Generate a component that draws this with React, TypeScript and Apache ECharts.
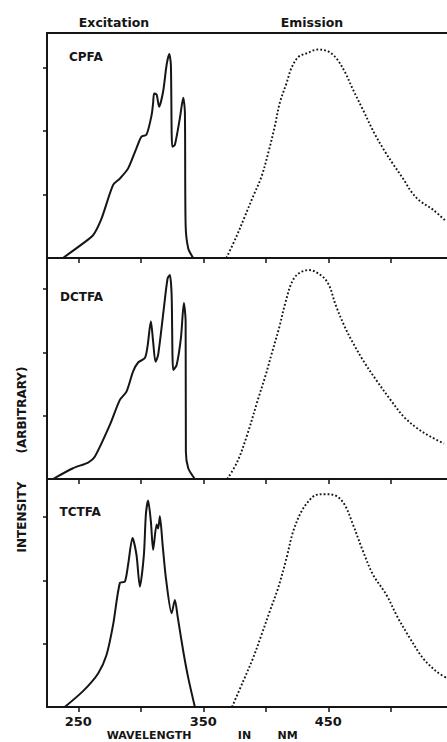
import React, { useEffect, useRef } from "react";
import * as echarts from "echarts";

// Wavelength axis (nm)
const xMin = 225;
const xMax = 545;
const xTickValues = [250, 300, 350, 400, 450, 500];
const xLabelValues = [250, 350, 450];
const yTickValues = [1, 2, 3];
const panelYMax = [3.54, 3.49, 3.6];
const panelNames = ["CPFA", "DCTFA", "TCTFA"];

// [wavelength nm, intensity (arbitrary)]
const cpfaExcitation = [
  [237.8, 0], [253.8, 0.23], [261.9, 0.36], [268.6, 0.62], [277.9, 1.15], [283.3, 1.25],
  [289.9, 1.41], [296.6, 1.73], [300.6, 1.91], [304.6, 1.94], [308.7, 2.25], [309.9, 2.44],
  [310.7, 2.59], [312.7, 2.57], [314.7, 2.38], [317.9, 2.62], [320.7, 3.04], [322.8, 3.21],
  [324.1, 3.04], [325.2, 1.75], [327.3, 1.78], [331.3, 2.2], [334.0, 2.52], [335.3, 2.3],
  [335.9, 0.52], [338.0, 0.15], [342.0, 0],
];
const cpfaEmission = [
  [368.5, 0], [376.6, 0.34], [383.2, 0.65], [389.9, 0.97], [396.6, 1.28], [402.6, 1.7],
  [407.2, 2.07], [411.2, 2.44], [416.6, 2.75], [420.6, 2.99], [425.9, 3.16], [432.6, 3.22],
  [441.9, 3.28], [449.9, 3.25], [456.6, 3.14], [463.2, 2.93], [469.8, 2.65], [477.8, 2.33],
  [487.2, 1.95], [495.2, 1.68], [501.8, 1.48], [509.8, 1.25], [516.6, 1.04], [523.2, 0.9],
  [533.8, 0.76], [544.6, 0.57],
];
const dctfaExcitation = [
  [229.8, 0], [245.8, 0.17], [257.9, 0.26], [263.2, 0.35], [275.2, 0.85], [283.3, 1.25],
  [288.6, 1.38], [293.9, 1.7], [297.9, 1.84], [303.3, 1.91], [305.4, 2.09], [308.1, 2.49],
  [309.9, 2.17], [311.8, 1.85], [313.9, 1.96], [318.5, 2.7], [321.5, 3.17], [323.3, 3.22],
  [324.7, 2.91], [326.0, 1.72], [328.7, 1.8], [332.1, 2.22], [334.5, 2.78], [335.9, 2.49],
  [336.1, 0.43], [338.0, 0.17], [343.3, 0],
];
const dctfaEmission = [
  [369.2, 0], [377.2, 0.27], [385.2, 0.7], [393.2, 1.22], [399.9, 1.64], [405.2, 2.01],
  [410.6, 2.38], [415.9, 2.8], [421.2, 3.12], [426.6, 3.25], [434.6, 3.3], [445.2, 3.2],
  [450.6, 3.06], [455.9, 2.75], [462.6, 2.43], [469.2, 2.17], [478.6, 1.85], [489.2, 1.54],
  [499.8, 1.25], [510.6, 0.98], [521.2, 0.8], [531.8, 0.67], [542.6, 0.56],
];
const tctfaExcitation = [
  [239.2, 0], [253.8, 0.25], [265.9, 0.53], [272.6, 0.82], [277.9, 1.3], [283.3, 1.96],
  [287.3, 1.98], [289.9, 2.25], [293.4, 2.67], [296.6, 2.4], [299.3, 1.9], [302.5, 2.4],
  [304.1, 3.04], [305.9, 3.26], [308.1, 2.93], [309.9, 2.48], [312.7, 2.88], [313.9, 2.82],
  [315.3, 3.01], [317.5, 2.56], [320.1, 2.04], [324.7, 1.48], [327.3, 1.69], [329.5, 1.43],
  [334.0, 0.88], [338.0, 0.46], [343.3, 0],
];
const tctfaEmission = [
  [373, 0], [381.8, 0.4], [389.8, 0.77], [396.6, 1.14], [403.2, 1.51], [409.9, 1.88],
  [416.6, 2.35], [421.9, 2.77], [428.6, 3.09], [435.2, 3.27], [440.6, 3.35], [448.6, 3.36],
  [456.6, 3.33], [463.2, 3.19], [469.8, 2.88], [477.8, 2.46], [485.8, 2.09], [496.6, 1.77],
  [504.6, 1.45], [515.2, 1.09], [525.8, 0.77], [536.6, 0.56], [544.6, 0.46],
];

const excitationSets = [cpfaExcitation, dctfaExcitation, tctfaExcitation];
const emissionSets = [cpfaEmission, dctfaEmission, tctfaEmission];

const INK = "#151515";
const FONT = "DejaVu Sans";

export default function App() {
  const ref = useRef<HTMLDivElement>(null);

  useEffect(() => {
    if (!ref.current) return;
    const chart = echarts.init(ref.current, undefined, { renderer: "svg" });

    const grids = [
      { left: 47, right: 0, top: 33, height: 225 },
      { left: 47, right: 0, top: 258, height: 221 },
      { left: 47, right: 0, top: 479, height: 228 },
    ].map((g) => ({ ...g, outerBoundsMode: "none", containLabel: false }));

    const xAxes: any[] = [0, 1, 2].map((i) => ({
      type: "value",
      gridIndex: i,
      min: xMin,
      max: xMax,
      position: "bottom",
      axisLine: { show: true, onZero: false, lineStyle: { color: INK, width: 2 } },
      axisTick: {
        show: true,
        inside: false,
        length: 5,
        customValues: xTickValues,
        lineStyle: { color: INK, width: 1.5 },
      },
      axisLabel: {
        show: i === 2,
        customValues: xLabelValues,
        margin: 8,
        color: INK,
        fontFamily: FONT,
        fontWeight: "bold",
        fontSize: 13,
      },
      splitLine: { show: false },
    }));
    xAxes.push({
      type: "value",
      gridIndex: 0,
      min: xMin,
      max: xMax,
      position: "top",
      axisLine: { show: true, onZero: false, lineStyle: { color: INK, width: 2 } },
      axisTick: { show: false },
      axisLabel: { show: false },
      splitLine: { show: false },
    });

    const yAxes = [0, 1, 2].map((i) => ({
      type: "value",
      gridIndex: i,
      min: 0,
      max: panelYMax[i],
      axisLine: { show: true, onZero: false, lineStyle: { color: INK, width: 2 } },
      axisTick: {
        show: true,
        inside: false,
        length: 4,
        customValues: yTickValues,
        lineStyle: { color: INK, width: 1.5 },
      },
      axisLabel: { show: false },
      splitLine: { show: false },
    }));

    const series: any[] = [];
    [0, 1, 2].forEach((i) => {
      series.push({
        type: "line",
        name: panelNames[i] + " excitation",
        xAxisIndex: i,
        yAxisIndex: i,
        data: excitationSets[i],
        showSymbol: false,
        smooth: 0.25,
        lineStyle: { color: INK, width: 2 },
      });
      series.push({
        type: "line",
        name: panelNames[i] + " emission",
        xAxisIndex: i,
        yAxisIndex: i,
        data: emissionSets[i],
        showSymbol: false,
        smooth: 0.35,
        lineStyle: { color: INK, width: 1.9, type: [1.8, 2.1] },
      });
    });

    const txt = (text: string, x: number, y: number, size: number, align = "left", rotation = 0) => ({
      type: "text",
      x,
      y,
      rotation,
      style: {
        text,
        fill: INK,
        fontFamily: FONT,
        fontWeight: "bold",
        fontSize: size,
        align,
        verticalAlign: "middle",
      },
    });

    chart.setOption({
      animation: false,
      backgroundColor: "#ffffff",
      grid: grids,
      xAxis: xAxes,
      yAxis: yAxes,
      series,
      graphic: [
        txt("Excitation", 114, 22, 12.5, "center"),
        txt("Emission", 312, 22, 12.5, "center"),
        txt(panelNames[0], 69, 57, 12),
        txt(panelNames[1], 60, 297, 12),
        txt(panelNames[2], 59.5, 511.5, 12),
        txt("INTENSITY", 22, 517, 12, "center", Math.PI / 2),
        txt("(ARBITRARY)", 22, 410, 12, "center", Math.PI / 2),
        txt("WAVELENGTH", 149, 735, 11, "center"),
        txt("IN", 244.5, 735, 11, "center"),
        txt("NM", 287.5, 735, 11, "center"),
      ],
    });

    return () => chart.dispose();
  }, []);

  return (
    <div
      ref={ref}
      style={{ position: "fixed", left: 0, top: 0, width: 447, height: 742, background: "#fff" }}
    />
  );
}
